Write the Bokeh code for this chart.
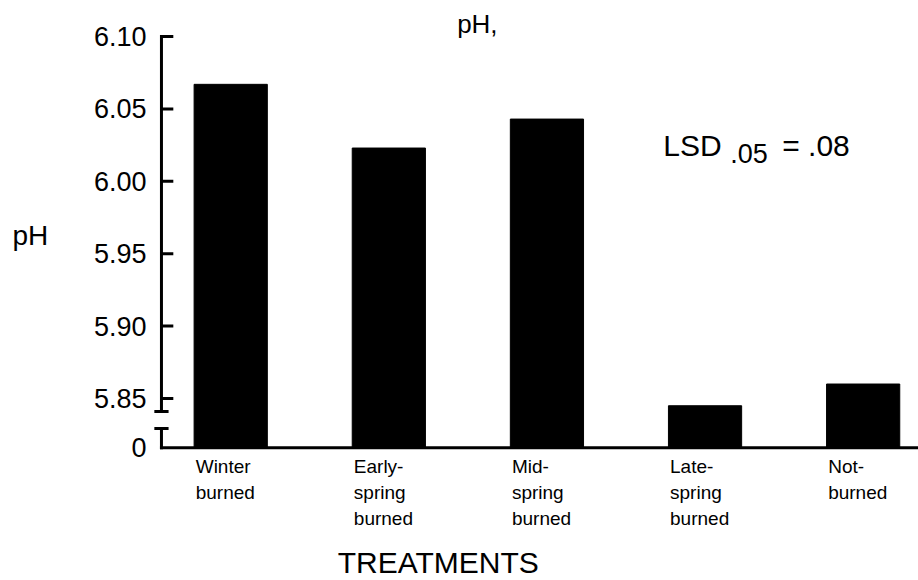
from bokeh.plotting import figure
from bokeh.models import Range1d, Label
from bokeh.core.properties import value
from bokeh.embed import file_html
from bokeh.resources import INLINE

# ---- data ----
categories = ["Winter\nburned", "Early-\nspring\nburned", "Mid-\nspring\nburned",
              "Late-\nspring\nburned", "Not-\nburned"]
ph_values = [6.067, 6.023, 6.043, 5.845, 5.860]
y_ticks = [5.85, 5.90, 5.95, 6.00, 6.05, 6.10]
y_tick_labels = ["5.85", "5.90", "5.95", "6.00", "6.05", "6.10"]
zero_label = "0"
BASE = 5.816                       # where "0" sits on the broken axis
BREAK_LO, BREAK_HI = 5.8293, 5.841  # axis break marks

FONT = "Liberation Sans"
xs = list(range(len(categories)))

# layout constants (data space of the single full-canvas frame)
X_LEFT, X_RIGHT = -1.456, 4.35
Y_BOTTOM, Y_TOP = 5.7243, 6.1249
AXIS_X = -0.438
TICK_LEN = 0.075
TICK_LABEL_X = -0.533
LABEL_SHIFT = 0.0069   # compensates the label baseline offset

p = figure(width=918, height=580, x_range=Range1d(X_LEFT, X_RIGHT),
           y_range=Range1d(Y_BOTTOM, Y_TOP), output_backend="svg",
           toolbar_location=None, title=None,
           x_axis_type=None, y_axis_type=None,
           min_border_left=0, min_border_right=0,
           min_border_top=0, min_border_bottom=0)
p.outline_line_color = None
p.background_fill_color = "white"
p.border_fill_color = "white"

# bars
p.vbar(x=xs, top=ph_values, bottom=BASE, width=0.463, color="black")

# broken y axis
lw = 3
p.segment(x0=[AXIS_X, AXIS_X], y0=[BASE, BREAK_HI], x1=[AXIS_X, AXIS_X],
          y1=[BREAK_LO, y_ticks[-1]], line_color="black", line_width=lw,
          line_cap="square")
p.segment(x0=[AXIS_X - 0.045] * 2, y0=[BREAK_LO, BREAK_HI],
          x1=[AXIS_X + 0.045] * 2, y1=[BREAK_LO, BREAK_HI],
          line_color="black", line_width=lw)
p.segment(x0=[AXIS_X] * len(y_ticks), y0=y_ticks,
          x1=[AXIS_X + TICK_LEN] * len(y_ticks), y1=y_ticks,
          line_color="black", line_width=lw)
# x axis line
p.segment(x0=[AXIS_X], y0=[BASE], x1=[X_RIGHT], y1=[BASE],
          line_color="black", line_width=lw, line_cap="square")

# y tick labels
p.text(x=[TICK_LABEL_X] * (len(y_ticks) + 1), y=[BASE] + y_ticks,
       text=[zero_label] + y_tick_labels, text_font=value(FONT),
       text_font_size="27px", text_color="black",
       text_align="right", text_baseline="middle")

# category labels
p.text(x=xs, y=[BASE] * len(xs), text=categories, text_font=value(FONT),
       text_font_size="19px", text_color="black", text_line_height=1.25,
       text_align="left", text_baseline="top", x_offset=-35, y_offset=8)

# texts
def lab(x, y, t, size, align="left"):
    p.add_layout(Label(x=x, y=y + LABEL_SHIFT, text=t, text_font=FONT,
                       text_font_size=size, text_color="black",
                       text_align=align, text_baseline="alphabetic"))

lab(-1.380, 5.9556, "pH", "28px")                 # y-axis title
lab(1.432, 6.102, "pH,", "26px")                  # chart title
lab(1.313, 5.7300, "TREATMENTS", "30px", "center")
lab(2.736, 6.0178, "LSD", "30px")
lab(3.16, 6.0123, ".05", "27px")
lab(3.488, 6.0178, "= .08", "30px")

open("out.html", "w").write(file_html(p, INLINE))
